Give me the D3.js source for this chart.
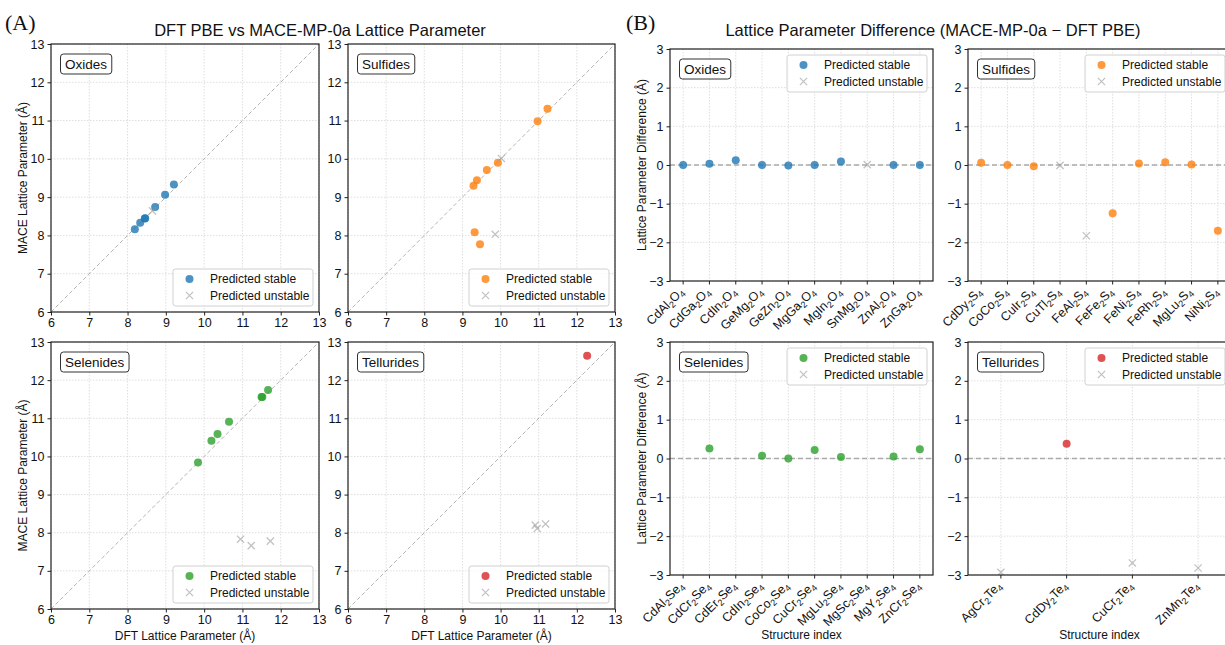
<!DOCTYPE html>
<html>
<head>
<meta charset="utf-8">
<script src="https://d3js.org/d3.v7.min.js"></script>
<style>
body { margin: 0; background: #fff; }
text { font-family: "Liberation Sans", Arial, sans-serif; fill: #111; }
</style>
</head>
<body>
<div id="workspace"></div>
<script>
// ---- data (A): DFT vs MACE lattice parameter, Angstrom
var oxidesStableDft = [8.19, 8.33, 8.45, 8.46, 8.72, 8.98, 9.21];
var oxidesStableMace = [8.16, 8.33, 8.44, 8.45, 8.74, 9.06, 9.33];
var oxidesUnstableDft = [8.65];
var oxidesUnstableMace = [8.64];

var sulfidesStableDft = [9.29, 9.38, 9.64, 9.93, 10.97, 11.23, 9.32, 9.46];
var sulfidesStableMace = [9.30, 9.44, 9.71, 9.90, 10.98, 11.31, 8.08, 7.77];
var sulfidesUnstableDft = [10.02, 9.86];
var sulfidesUnstableMace = [10.01, 8.03];

var selenidesStableDft = [9.84, 10.19, 10.35, 10.65, 11.50, 11.52, 11.67];
var selenidesStableMace = [9.84, 10.41, 10.59, 10.91, 11.56, 11.56, 11.74];
var selenidesUnstableDft = [10.95, 11.23, 11.73];
var selenidesUnstableMace = [7.83, 7.66, 7.78];

var telluridesStableDft = [12.27];
var telluridesStableMace = [12.64];
var telluridesUnstableDft = [10.91, 10.96, 11.18];
var telluridesUnstableMace = [8.20, 8.11, 8.23];

var latticeTicks = [6, 7, 8, 9, 10, 11, 12, 13];

// ---- data (B): difference MACE - DFT
var oxideNames = ["CdAl2O4", "CdGa2O4", "CdIn2O4", "GeMg2O4", "GeZn2O4", "MgGa2O4", "MgIn2O4", "SnMg2O4", "ZnAl2O4", "ZnGa2O4"];
var oxideDiff = [0.00, 0.03, 0.12, 0.00, -0.01, 0.00, 0.09, 0.01, 0.00, 0.00];
var oxideStable = [1, 1, 1, 1, 1, 1, 1, 0, 1, 1];

var sulfideNames = ["CdDy2S4", "CoCo2S4", "CuIr2S4", "CuTl2S4", "FeAl2S4", "FeFe2S4", "FeNi2S4", "FeRh2S4", "MgLu2S4", "NiNi2S4"];
var sulfideDiff = [0.06, 0.00, -0.03, -0.01, -1.83, -1.25, 0.04, 0.07, 0.01, -1.70];
var sulfideStable = [1, 1, 1, 0, 0, 1, 1, 1, 1, 1];

var selenideNames = ["CdAl2Se4", "CdCr2Se4", "CdEr2Se4", "CdIn2Se4", "CoCo2Se4", "CuCr2Se4", "MgLu2Se4", "MgSc2Se4", "MgY2Se4", "ZnCr2Se4"];
var selenideDiff = [-3.12, 0.26, -3.95, 0.07, 0.00, 0.22, 0.04, -3.57, 0.05, 0.24];
var selenideStable = [0, 1, 0, 1, 1, 1, 1, 0, 1, 1];

var tellurideNames = ["AgCr2Te4", "CdDy2Te4", "CuCr2Te4", "ZnMn2Te4"];
var tellurideDiff = [-2.93, 0.38, -2.69, -2.82];
var tellurideStable = [0, 1, 0, 0];

var diffTicks = [-3, -2, -1, 0, 1, 2, 3];

var colors = { Oxides: "#1f77b4", Sulfides: "#ff7f0e", Selenides: "#2ca02c", Tellurides: "#d62728" };

var svg = d3.select("#workspace")
	.append("svg")
	.attr("width", 1225)
	.attr("height", 645);

var clipCount = 0;

function minus(v) { return String(v).replace("-", "\u2212"); }

function styleAxis(a) {
	a.select(".domain").remove();
	a.selectAll("text").attr("font-size", 12.5).attr("font-family", null).attr("fill", "#111");
	a.selectAll("line").attr("stroke", "#222");
}

// axes box with grid and numeric y ticks
function frame(g, x, y, w, h, xTicks, yTicks) {
	g.append("g").selectAll("line").data(xTicks).join("line")
		.attr("x1", d => x(d)).attr("x2", d => x(d))
		.attr("y1", 0).attr("y2", h)
		.attr("stroke", "#d6d6d6").attr("stroke-width", 0.8)
		.attr("stroke-dasharray", "1.5,1.5");
	g.append("g").selectAll("line").data(yTicks).join("line")
		.attr("x1", 0).attr("x2", w)
		.attr("y1", d => y(d)).attr("y2", d => y(d))
		.attr("stroke", "#d6d6d6").attr("stroke-width", 0.8)
		.attr("stroke-dasharray", "1.5,1.5");
	var ya = g.append("g").call(d3.axisLeft(y).tickValues(yTicks).tickSize(3.5).tickPadding(3).tickFormat(minus));
	styleAxis(ya);
}

function spines(g, w, h) {
	g.append("rect")
		.attr("width", w).attr("height", h)
		.attr("fill", "none").attr("stroke", "#222").attr("stroke-width", 1.2);
}

function labelBox(g, name) {
	var r = g.append("rect");
	var t = g.append("text").attr("x", 14).attr("y", 24.5).attr("font-size", 13.5).text(name);
	var bb = t.node().getBBox();
	r.attr("x", bb.x - 4.5).attr("y", 10).attr("width", bb.width + 9).attr("height", 20)
		.attr("rx", 3).attr("fill", "#fff").attr("stroke", "#333").attr("stroke-width", 1);
}

function legend(g, lx, ly, color) {
	var lg = g.append("g").attr("transform", "translate(" + lx + "," + ly + ")");
	lg.append("rect").attr("width", 140).attr("height", 37).attr("rx", 2.5)
		.attr("fill", "#fff").attr("fill-opacity", 0.8).attr("stroke", "#d0d0d0");
	lg.append("circle").attr("cx", 16.5).attr("cy", 10).attr("r", 4)
		.attr("fill", color).attr("fill-opacity", 0.8);
	cross(lg, 16.5, 26.5);
	lg.append("text").attr("x", 37).attr("y", 14.2).attr("font-size", 12).text("Predicted stable");
	lg.append("text").attr("x", 37).attr("y", 31).attr("font-size", 12).text("Predicted unstable");
}

function cross(g, cx, cy) {
	var s = 3.6;
	g.append("path")
		.attr("d", "M" + (cx - s) + "," + (cy - s) + "L" + (cx + s) + "," + (cy + s) + "M" + (cx - s) + "," + (cy + s) + "L" + (cx + s) + "," + (cy - s))
		.attr("stroke", "#9a9a9a").attr("stroke-opacity", 0.6).attr("stroke-width", 1.3);
}

function clipped(g, w, h) {
	var id = "clip" + (clipCount++);
	g.append("clipPath").attr("id", id).append("rect").attr("width", w).attr("height", h);
	return g.append("g").attr("clip-path", "url(#" + id + ")");
}

function scatterPanel(px, py, w, h, name, sx, sy, ux, uy, showX, showY) {
	var g = svg.append("g").attr("transform", "translate(" + px + "," + py + ")");
	var x = d3.scaleLinear().domain([6, 13]).range([0, w]);
	var y = d3.scaleLinear().domain([6, 13]).range([h, 0]);
	frame(g, x, y, w, h, latticeTicks, latticeTicks);
	var xa = g.append("g").attr("transform", "translate(0," + h + ")")
		.call(d3.axisBottom(x).tickValues(latticeTicks).tickSize(3.5).tickPadding(3).tickFormat(d3.format("d")));
	styleAxis(xa);
	var c = clipped(g, w, h);
	c.append("line")
		.attr("x1", x(6)).attr("y1", y(6)).attr("x2", x(13)).attr("y2", y(13))
		.attr("stroke", "#b5b5b5").attr("stroke-width", 1).attr("stroke-dasharray", "4,2.5");
	c.selectAll("circle").data(d3.range(sx.length)).join("circle")
		.attr("cx", i => x(sx[i])).attr("cy", i => y(sy[i])).attr("r", 4)
		.attr("fill", colors[name]).attr("fill-opacity", 0.8);
	ux.forEach(function(v, i) { cross(c, x(v), y(uy[i])); });
	spines(g, w, h);
	labelBox(g, name);
	legend(g, w - 146, h - 43, colors[name]);
	if (showX) {
		g.append("text").attr("x", w / 2).attr("y", h + 31).attr("text-anchor", "middle")
			.attr("font-size", 12).text("DFT Lattice Parameter (\u00c5)");
	}
	if (showY) {
		g.append("text").attr("transform", "translate(-24," + (h / 2) + ") rotate(-90)")
			.attr("text-anchor", "middle").attr("font-size", 12).text("MACE Lattice Parameter (\u00c5)");
	}
}

// chemical formula with subscripted digits
function formula(t, s) {
	s.split(/(\d)/).filter(d => d.length).forEach(function(p) {
		if (/\d/.test(p)) {
			t.append("tspan").attr("font-size", 9).attr("dy", 2.8).text(p);
			t.append("tspan").attr("font-size", 12.5).attr("dy", -2.8).text("\u200b");
		} else {
			t.append("tspan").text(p);
		}
	});
}

function diffPanel(px, py, w, h, name, names, diff, stable, showX, showY) {
	var g = svg.append("g").attr("transform", "translate(" + px + "," + py + ")");
	var idx = d3.range(names.length);
	var x = d3.scaleLinear().domain([-0.5, names.length - 0.5]).range([0, w]);
	var y = d3.scaleLinear().domain([-3, 3]).range([h, 0]);
	frame(g, x, y, w, h, idx, diffTicks);
	var xt = g.append("g").attr("transform", "translate(0," + h + ")");
	xt.selectAll("line").data(idx).join("line")
		.attr("x1", i => x(i)).attr("x2", i => x(i)).attr("y1", 0).attr("y2", 3.5)
		.attr("stroke", "#222");
	xt.selectAll("text").data(idx).join("text")
		.attr("transform", i => "translate(" + (x(i) + 1.5) + ",11.5) rotate(-45)")
		.attr("text-anchor", "end").attr("font-size", 12.5)
		.each(function(i) { formula(d3.select(this), names[i]); });
	var c = clipped(g, w, h);
	c.append("line")
		.attr("x1", 0).attr("x2", w).attr("y1", y(0)).attr("y2", y(0))
		.attr("stroke", "#aaa").attr("stroke-width", 1.3).attr("stroke-dasharray", "5,3");
	c.selectAll("circle").data(idx.filter(i => stable[i])).join("circle")
		.attr("cx", i => x(i)).attr("cy", i => y(diff[i])).attr("r", 4)
		.attr("fill", colors[name]).attr("fill-opacity", 0.8);
	idx.filter(i => !stable[i]).forEach(function(i) { cross(c, x(i), y(diff[i])); });
	spines(g, w, h);
	labelBox(g, name);
	legend(g, w - 146, 6, colors[name]);
	if (showX) {
		g.append("text").attr("x", w / 2).attr("y", h + 64).attr("text-anchor", "middle")
			.attr("font-size", 12).text("Structure index");
	}
	if (showY) {
		g.append("text").attr("transform", "translate(-24.5," + (h / 2) + ") rotate(-90)")
			.attr("text-anchor", "middle").attr("font-size", 12).text("Lattice Parameter Difference (\u00c5)");
	}
}

// titles
svg.append("text").attr("x", 5).attr("y", 30).attr("font-size", 22)
	.style("font-family", "'Liberation Serif', 'Times New Roman', serif").text("(A)");
svg.append("text").attr("x", 626).attr("y", 30).attr("font-size", 22)
	.style("font-family", "'Liberation Serif', 'Times New Roman', serif").text("(B)");
svg.append("text").attr("x", 320).attr("y", 36).attr("text-anchor", "middle").attr("font-size", 16.5)
	.text("DFT PBE vs MACE-MP-0a Lattice Parameter");
svg.append("text").attr("x", 933).attr("y", 36).attr("text-anchor", "middle").attr("font-size", 16.5)
	.text("Lattice Parameter Difference (MACE-MP-0a \u2212 DFT PBE)");

scatterPanel(51, 44, 268, 268, "Oxides", oxidesStableDft, oxidesStableMace, oxidesUnstableDft, oxidesUnstableMace, false, true);
scatterPanel(348, 44, 267, 268, "Sulfides", sulfidesStableDft, sulfidesStableMace, sulfidesUnstableDft, sulfidesUnstableMace, false, false);
scatterPanel(51, 342, 268, 267, "Selenides", selenidesStableDft, selenidesStableMace, selenidesUnstableDft, selenidesUnstableMace, true, true);
scatterPanel(348, 342, 267, 267, "Tellurides", telluridesStableDft, telluridesStableMace, telluridesUnstableDft, telluridesUnstableMace, true, false);

diffPanel(670, 49, 263, 232, "Oxides", oxideNames, oxideDiff, oxideStable, false, true);
diffPanel(968, 49, 263, 232, "Sulfides", sulfideNames, sulfideDiff, sulfideStable, false, false);
diffPanel(670, 342, 263, 233, "Selenides", selenideNames, selenideDiff, selenideStable, true, true);
diffPanel(968, 342, 263, 233, "Tellurides", tellurideNames, tellurideDiff, tellurideStable, true, false);
</script>
</body>
</html>
